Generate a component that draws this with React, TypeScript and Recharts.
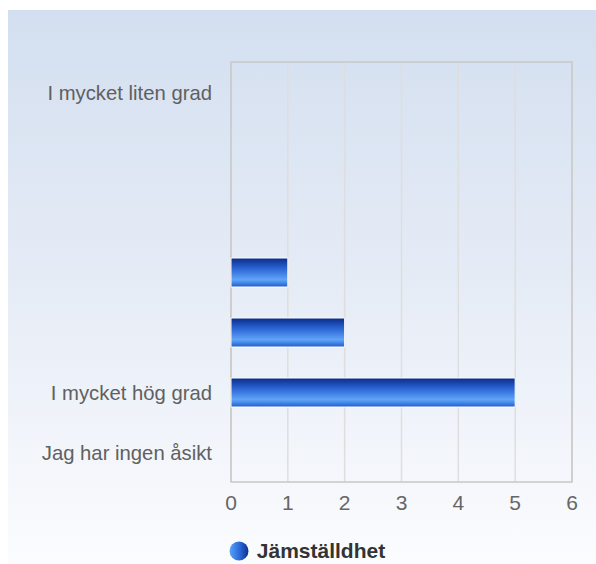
import React from "react";
import { BarChart, Bar, XAxis, YAxis, CartesianGrid, ReferenceArea } from "recharts";

const categories = ["I mycket liten grad", "", "", "", "", "I mycket hög grad", "Jag har ingen åsikt"];
const values = [0, 0, 0, 1, 2, 5, 0];
const xTicks = [0, 1, 2, 3, 4, 5, 6];
const seriesName = "Jämställdhet";

const data = categories.map((c, i) => ({ id: "c" + i, label: c, value: values[i] }));

const FONT = "'Liberation Sans', Arial, Helvetica, sans-serif";

const YTick = (props: any) => {
  const { x, y, payload } = props;
  const idx = Number(String(payload.value).slice(1));
  return (
    <text x={x} y={y} dy={8} textAnchor="end" fill="#606060" fontSize={20.3} fontFamily={FONT}>
      {categories[idx]}
    </text>
  );
};

const LegendBox = () => (
  <div
    style={{
      position: "absolute",
      left: 0,
      top: 530,
      width: 588,
      display: "flex",
      justifyContent: "center",
      alignItems: "center",
      fontFamily: FONT,
      paddingLeft: 10,
      boxSizing: "border-box",
      height: 22,
    }}
  >
    <svg width={20} height={20} style={{ marginRight: 8 }}>
      <defs>
        <linearGradient id="legGrad" x1="0" y1="0" x2="1" y2="0">
          <stop offset="0%" stopColor="#5aa2f7" />
          <stop offset="55%" stopColor="#2a66d8" />
          <stop offset="100%" stopColor="#0b2f8c" />
        </linearGradient>
      </defs>
      <circle cx={10} cy={10} r={9.5} fill="url(#legGrad)" />
    </svg>
    <span style={{ fontWeight: "bold", fontSize: 21, color: "#333" }}>{seriesName}</span>
  </div>
);

export default function App() {
  return (
    <div
      style={{
        position: "fixed",
        top: 10,
        left: 8,
        width: 588,
        height: 554,
        background: "linear-gradient(to bottom, #d3dff0 0%, #e6ecf6 50%, #fbfcfe 100%)",
      }}
    >
      <BarChart
        width={588}
        height={554}
        data={data}
        layout="vertical"
        margin={{ top: 52, right: 24, bottom: 52, left: 0 }}
        barCategoryGap={16}
      >
        <defs>
          <linearGradient id="barGrad" x1="0" y1="0" x2="0" y2="1">
            <stop offset="0%" stopColor="#0a2b88" />
            <stop offset="35%" stopColor="#2a62d2" />
            <stop offset="75%" stopColor="#5fa5f8" />
            <stop offset="100%" stopColor="#1f5ccc" />
          </linearGradient>
        </defs>
        <CartesianGrid horizontal={false} stroke="#dedede" strokeWidth={1.5} />
        <ReferenceArea x1={0} x2={6} fill="none" stroke="#c8c8c8" strokeWidth={1.5} ifOverflow="visible" />
        <XAxis
          type="number"
          domain={[0, 6]}
          ticks={xTicks}
          height={30}
          axisLine={false}
          tickLine={false}
          tickMargin={7}
          tick={{ fill: "#666", fontSize: 21, fontFamily: FONT }}
        />
        <YAxis
          type="category"
          dataKey="id"
          width={223}
          axisLine={false}
          tickLine={false}
          tickSize={0}
          tickMargin={19}
          tick={<YTick />}
          interval={0}
        />
        <Bar
          dataKey="value"
          name={seriesName}
          fill="url(#barGrad)"
          stroke="#ffffff"
          strokeWidth={1}
          barSize={29}
          isAnimationActive={false}
        />
      </BarChart>
      <LegendBox />
    </div>
  );
}
